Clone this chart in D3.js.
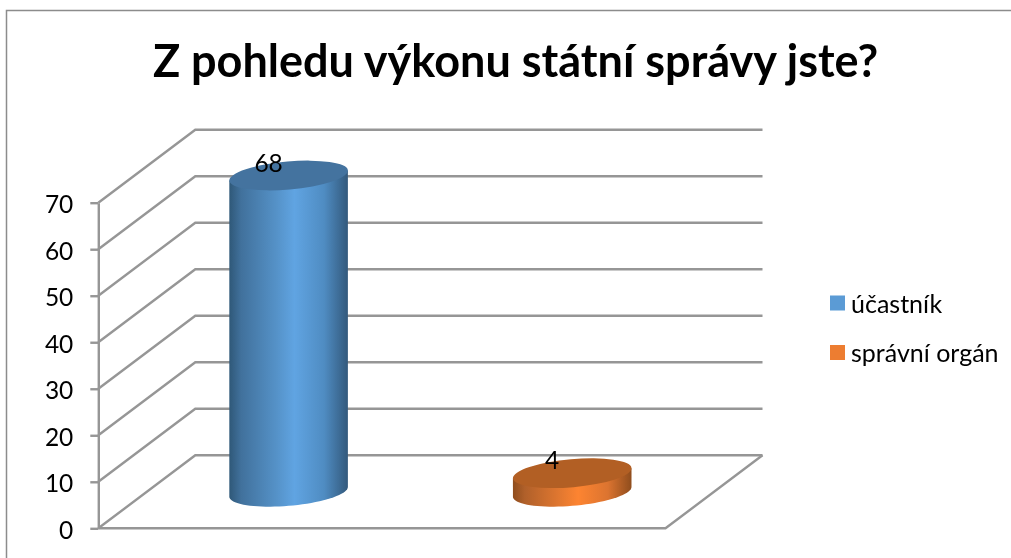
<!DOCTYPE html>
<html>

<head>
    <meta charset="utf-8">
    <style>
        html, body { margin: 0; padding: 0; background: white; }
        svg { display: block; filter: blur(0.45px); }
        text { font-family: Lato, "Open Sans", sans-serif; fill: black; }
    </style>
</head>

<body>
    <svg id="container" width="1011" height="558">
        <defs></defs>
        <g id="body"></g>
    </svg>
</body>
<script src="https://cdn.jsdelivr.net/npm/d3@7"></script>
<script>
    const titleText = "Z pohledu výkonu státní správy jste?"
    const categories = ["účastník", "správní orgán"]
    const values = [68, 4]
    const yTicks = [0, 10, 20, 30, 40, 50, 60, 70]
    const topColors = ["#44739f", "#b25f24"]
    const legendColors = ["#5b9bd5", "#ed7d31"]
    const sideStops = [
        ["#2f5878", "#41719c", "#5592c8", "#60a4e2", "#4f8cc2", "#33597c"],
        ["#8f4d1d", "#b0602a", "#e27830", "#fd8431", "#dc7430", "#8f4d1d"]
    ]
    const stopOffsets = [0, 0.1, 0.4, 0.55, 0.8, 1]

    const svg = d3.select("#container")
    const body = d3.select("#body")
    const gridColor = "#969696"

    const depthX = 97
    const depthY = -73

    const x = d3.scaleBand().domain(categories).range([98.3, 665.5])
    const y = d3.scaleLinear().domain([0, 70]).range([528.3, 202.7])

    // frame
    body.append("path")
        .attr("d", "M6.5,558V10.5H1011")
        .attr("fill", "none")
        .attr("stroke", "#8c8c8c")
        .attr("stroke-width", 1.5)

    body.append("text")
        .attr("x", 515.5)
        .attr("y", 77)
        .attr("text-anchor", "middle")
        .attr("font-size", 45)
        .attr("font-weight", 700)
        .text(titleText)

    // walls
    let walls = body.append("g")
        .attr("fill", "none")
        .attr("stroke", gridColor)
        .attr("stroke-width", 2.4)

    walls.selectAll("path").data(yTicks).enter().append("path")
        .attr("d", d => `M${x.range()[0]},${y(d)}l${depthX},${depthY}H${x.range()[1] + depthX}`)

    walls.append("path")
        .attr("d", `M${x.range()[0]},${y(0)}H${x.range()[1]}l${depthX},${depthY}`)

    // axis
    let axis = body.append("g")
        .attr("transform", `translate(${x.range()[0]},0)`)
        .call(d3.axisLeft(y).tickValues(yTicks).tickSize(8).tickPadding(17).tickSizeOuter(0))

    axis.selectAll("line,path").attr("stroke", gridColor).attr("stroke-width", 2.4)
    axis.selectAll("text").attr("font-size", 24.5).attr("font-family", "Lato").attr("dy", "0.4em")

    // cylinders
    const rx = 59.5
    const ry = 14
    const tilt = -5 * Math.PI / 180
    const defs = svg.select("defs")

    function ellipsePoint(cx, cy, a) {
        return [
            cx + rx * Math.cos(a) * Math.cos(tilt) - ry * Math.sin(a) * Math.sin(tilt),
            cy + rx * Math.cos(a) * Math.sin(tilt) + ry * Math.sin(a) * Math.cos(tilt)
        ]
    }

    // the angle where the tilted ellipse touches its left and right side
    const edgeAngle = Math.atan2(-ry * Math.sin(tilt), rx * Math.cos(tilt))

    function sidePath(cx, yTop, yBase) {
        let lower = d3.range(0, 41).map(i => ellipsePoint(cx, yBase, edgeAngle + Math.PI * i / 40))
        let first = ellipsePoint(cx, yTop, edgeAngle)
        let last = ellipsePoint(cx, yTop, edgeAngle + Math.PI)
        return "M" + first + "L" + lower.join("L") + "L" + last + "Z"
    }

    categories.forEach((c, i) => {
        let gradient = defs.append("linearGradient").attr("id", "side" + i)
        stopOffsets.forEach((o, j) => {
            gradient.append("stop").attr("offset", o).attr("stop-color", sideStops[i][j])
        })

        let cx = x(c) + x.bandwidth() / 2 + depthX / 2
        let yBase = y(0) + depthY / 2
        let yTop = y(values[i]) + depthY / 2

        body.append("path")
            .attr("d", sidePath(cx, yTop, yBase))
            .attr("fill", `url(#side${i})`)

        body.append("ellipse")
            .attr("rx", rx)
            .attr("ry", ry)
            .attr("transform", `translate(${cx},${yTop}) rotate(-5)`)
            .attr("fill", topColors[i])

        body.append("text")
            .attr("x", cx - 20)
            .attr("y", yTop - 4)
            .attr("text-anchor", "middle")
            .attr("font-size", 24.5)
            .text(values[i])
    })

    // legend
    let legend = body.selectAll(".legend").data(categories).enter().append("g")
        .attr("class", "legend")
        .attr("transform", (d, i) => `translate(830,${295.5 + i * 49.5})`)

    legend.append("rect")
        .attr("width", 15)
        .attr("height", 15)
        .attr("fill", (d, i) => legendColors[i])

    legend.append("text")
        .attr("x", 21)
        .attr("y", 17)
        .attr("font-size", 25)
        .text(d => d)
</script>

</html>
